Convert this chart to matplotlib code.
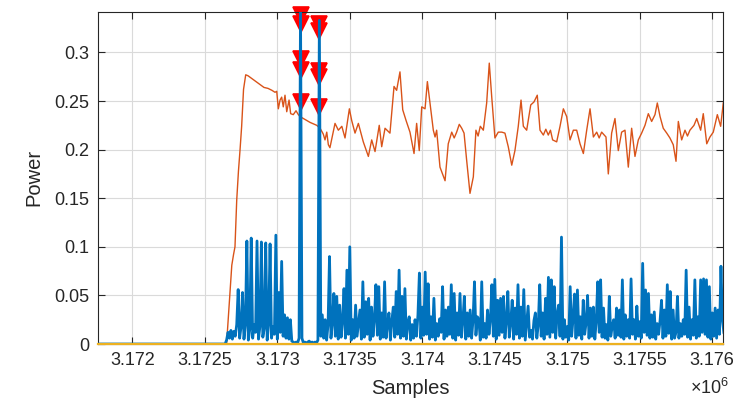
import numpy as np
import matplotlib
matplotlib.use("Agg")
import matplotlib.pyplot as plt
from matplotlib.ticker import MultipleLocator, FuncFormatter

plt.rcParams['font.family'] = ['Liberation Sans', 'DejaVu Sans']

# blue trace: instantaneous power, one value every 10 samples from 3172650
blue_start = 3172650
blue_step = 10
blue_power = [
    0.004, 0.012, 0.006, 0.014, 0.005, 0.013, 0.008, 0.020, 0.056, 0.006,
    0.018, 0.053, 0.005, 0.020, 0.106, 0.004, 0.015, 0.109, 0.006, 0.020,
    0.012, 0.106, 0.005, 0.018, 0.105, 0.007, 0.016, 0.104, 0.004, 0.020,
    0.103, 0.006, 0.018, 0.010, 0.112, 0.005, 0.053, 0.012, 0.085, 0.008,
    0.030, 0.006, 0.027, 0.005, 0.025, 0.003, 0.002, 0.001, 0.002, 0.001,
    0.006, 0.345, 0.006, 0.001, 0.002, 0.001, 0.002, 0.003, 0.001, 0.002,
    0.001, 0.002, 0.001, 0.004, 0.333, 0.008, 0.030, 0.006, 0.025, 0.004,
    0.020, 0.090, 0.006, 0.022, 0.052, 0.008, 0.049, 0.005, 0.040, 0.007,
    0.024, 0.057, 0.006, 0.076, 0.010, 0.100, 0.004, 0.025, 0.006, 0.040,
    0.008, 0.022, 0.035, 0.005, 0.064, 0.007, 0.0435, 0.010, 0.047, 0.004,
    0.038, 0.008, 0.026, 0.061, 0.009, 0.059, 0.005, 0.032, 0.007, 0.064,
    0.006, 0.020, 0.032, 0.004, 0.024, 0.038, 0.007, 0.054, 0.010, 0.076,
    0.006, 0.049, 0.008, 0.057, 0.005, 0.022, 0.028, 0.004, 0.020, 0.006,
    0.025, 0.008, 0.030, 0.073, 0.006, 0.038, 0.009, 0.074, 0.010, 0.062,
    0.005, 0.028, 0.007, 0.047, 0.004, 0.021, 0.008, 0.026, 0.012, 0.059,
    0.005, 0.035, 0.008, 0.038, 0.010, 0.061, 0.006, 0.052, 0.004, 0.032,
    0.009, 0.052, 0.007, 0.024, 0.049, 0.005, 0.032, 0.008, 0.035, 0.006,
    0.025, 0.064, 0.009, 0.028, 0.025, 0.004, 0.064, 0.007, 0.021, 0.006,
    0.035, 0.010, 0.026, 0.061, 0.008, 0.0665, 0.005, 0.045, 0.009, 0.047,
    0.012, 0.049, 0.006, 0.024, 0.054, 0.007, 0.022, 0.045, 0.005, 0.037,
    0.010, 0.061, 0.006, 0.038, 0.008, 0.056, 0.004, 0.022, 0.039, 0.007,
    0.014, 0.005, 0.024, 0.032, 0.006, 0.020, 0.061, 0.008, 0.032, 0.005,
    0.047, 0.010, 0.0686, 0.007, 0.066, 0.012, 0.059, 0.006, 0.030, 0.040,
    0.008, 0.110, 0.005, 0.025, 0.007, 0.018, 0.004, 0.059, 0.008, 0.026,
    0.0514, 0.006, 0.0556, 0.009, 0.028, 0.005, 0.045, 0.010, 0.022, 0.050,
    0.006, 0.037, 0.008, 0.038, 0.005, 0.024, 0.064, 0.012, 0.066, 0.007,
    0.037, 0.006, 0.020, 0.004, 0.049, 0.008, 0.018, 0.025, 0.006, 0.037,
    0.009, 0.035, 0.007, 0.066, 0.005, 0.030, 0.008, 0.025, 0.006, 0.067,
    0.010, 0.025, 0.005, 0.039, 0.008, 0.023, 0.006, 0.083, 0.012, 0.0556,
    0.009, 0.052, 0.006, 0.030, 0.007, 0.033, 0.005, 0.021, 0.010, 0.024,
    0.045, 0.006, 0.035, 0.008, 0.061, 0.011, 0.054, 0.005, 0.035, 0.006,
    0.012, 0.049, 0.006, 0.021, 0.008, 0.025, 0.010, 0.076, 0.007, 0.038,
    0.005, 0.025, 0.009, 0.066, 0.006, 0.028, 0.008, 0.066, 0.012, 0.067,
    0.010, 0.066, 0.007, 0.059, 0.005, 0.032, 0.008, 0.037, 0.006, 0.035,
    0.010, 0.080, 0.025, 0.012,
]

# orange trace: smoothed power
orange_samples = [
    3171761, 3172650, 3172668, 3172686, 3172698, 3172708, 3172720, 3172732,
    3172743, 3172754, 3172767, 3172782, 3172798, 3172825, 3172853, 3172881,
    3172908, 3172936, 3172963, 3172984, 3172996, 3173007, 3173019, 3173030,
    3173041, 3173053, 3173065, 3173081, 3173092, 3173110, 3173129, 3173145,
    3173157, 3173191, 3173226, 3173272, 3173295, 3173317, 3173329, 3173341,
    3173352, 3173363, 3173381, 3173398, 3173421, 3173445, 3173467, 3173497,
    3173513, 3173536, 3173559, 3173593, 3173628, 3173651, 3173674, 3173703,
    3173720, 3173743, 3173777, 3173805, 3173823, 3173846, 3173865, 3173888,
    3173915, 3173943, 3173961, 3173979, 3173996, 3174019, 3174035, 3174053,
    3174076, 3174088, 3174099, 3174122, 3174157, 3174179, 3174203, 3174220,
    3174237, 3174255, 3174272, 3174288, 3174306, 3174329, 3174352, 3174370,
    3174385, 3174400, 3174421, 3174444, 3174462, 3174479, 3174501, 3174524,
    3174548, 3174570, 3174593, 3174617, 3174639, 3174662, 3174681, 3174697,
    3174720, 3174748, 3174770, 3174793, 3174812, 3174835, 3174852, 3174869,
    3174884, 3174899, 3174927, 3174950, 3174973, 3174996, 3175019, 3175042,
    3175065, 3175088, 3175111, 3175134, 3175157, 3175180, 3175203, 3175220,
    3175237, 3175267, 3175283, 3175306, 3175329, 3175352, 3175375, 3175398,
    3175421, 3175444, 3175467, 3175490, 3175513, 3175536, 3175559, 3175582,
    3175605, 3175621, 3175640, 3175662, 3175686, 3175708, 3175731, 3175750,
    3175766, 3175789, 3175812, 3175829, 3175846, 3175874, 3175893, 3175920,
    3175938, 3175962, 3175984, 3176007, 3176035, 3176058, 3176076,
]
orange_power = [
    0.0, 0.0, 0.040, 0.081, 0.092, 0.100, 0.148, 0.178,
    0.200, 0.224, 0.262, 0.277, 0.276, 0.273, 0.270, 0.267,
    0.264, 0.263, 0.261, 0.259, 0.260, 0.242, 0.251, 0.254,
    0.244, 0.256, 0.239, 0.251, 0.237, 0.236, 0.240, 0.236,
    0.234, 0.231, 0.228, 0.225, 0.222, 0.216, 0.210, 0.218,
    0.205, 0.202, 0.215, 0.227, 0.220, 0.224, 0.212, 0.242,
    0.230, 0.217, 0.227, 0.208, 0.193, 0.210, 0.198, 0.225,
    0.203, 0.222, 0.217, 0.265, 0.261, 0.280, 0.241, 0.230,
    0.218, 0.196, 0.227, 0.199, 0.244, 0.242, 0.270, 0.248,
    0.220, 0.213, 0.220, 0.182, 0.168, 0.206, 0.218, 0.212,
    0.218, 0.226, 0.222, 0.217, 0.189, 0.155, 0.172, 0.220,
    0.214, 0.224, 0.220, 0.248, 0.289, 0.254, 0.212, 0.218,
    0.218, 0.217, 0.203, 0.184, 0.199, 0.224, 0.251, 0.224,
    0.220, 0.246, 0.249, 0.256, 0.220, 0.215, 0.221, 0.215,
    0.220, 0.210, 0.208, 0.224, 0.242, 0.234, 0.210, 0.220,
    0.220, 0.206, 0.196, 0.220, 0.242, 0.213, 0.218, 0.212,
    0.218, 0.213, 0.175, 0.217, 0.232, 0.199, 0.218, 0.220,
    0.182, 0.222, 0.193, 0.210, 0.217, 0.225, 0.237, 0.229,
    0.236, 0.248, 0.234, 0.222, 0.217, 0.212, 0.205, 0.188,
    0.229, 0.210, 0.220, 0.214, 0.220, 0.225, 0.232, 0.220,
    0.237, 0.206, 0.213, 0.218, 0.236, 0.224, 0.248,
]

# yellow trace: flat at zero over the whole window
yellow_samples = [3171761, 3176076]
yellow_power = [0.0, 0.0]

# detected peaks (red markers)
peak_samples = [3173160, 3173160, 3173160, 3173160, 3173160,
                3173290, 3173290, 3173290, 3173290, 3173290]
peak_power = [0.339, 0.329, 0.293, 0.282, 0.249,
              0.329, 0.322, 0.281, 0.275, 0.244]

blue_samples = blue_start + blue_step * np.arange(len(blue_power))
blue_x = np.r_[yellow_samples[0], blue_start - blue_step, blue_samples]
blue_y = np.r_[0.0, 0.0, blue_power]

text_col = '#262626'

fig = plt.figure(figsize=(7.52, 4.04), dpi=100)
ax = fig.add_axes([0.1299, 0.1485, 0.8319, 0.8225])

ax.plot(blue_x, blue_y, color='#0072BD', lw=2.0, zorder=4)
ax.plot(orange_samples, orange_power, color='#D95319', lw=1.0, zorder=3)
ax.plot(yellow_samples, yellow_power, color='#EDB120', lw=1.6, zorder=5,
        clip_on=False)
ax.plot(peak_samples, peak_power, 'v', color='red', ms=11, mec='red',
        mew=1.2, clip_on=False, zorder=2)

ax.set_xlim(3171761, 3176076)
ax.set_ylim(0, 0.3419)
ax.xaxis.set_major_locator(MultipleLocator(500))
ax.yaxis.set_major_locator(MultipleLocator(0.05))
ax.xaxis.set_major_formatter(FuncFormatter(lambda v, p: f'{v / 1e6:g}'))
ax.yaxis.set_major_formatter(FuncFormatter(lambda v, p: f'{v:g}'))

ax.grid(True, color='#dadada', lw=0.8)
ax.set_axisbelow(True)
ax.tick_params(direction='in', top=True, right=True, length=5, width=0.8,
               color=text_col, labelcolor=text_col, labelsize=13)
ax.tick_params(axis='y', pad=6)
ax.tick_params(axis='x', pad=6)
for s in ax.spines.values():
    s.set_color(text_col)
    s.set_linewidth(0.8)

ax.set_xlabel('Samples', fontsize=14.5, color=text_col)
ax.set_ylabel('Power', fontsize=14.5, color=text_col)
ax.xaxis.set_label_coords(0.5, -0.105)
ax.yaxis.set_label_coords(-0.087, 0.5)
ax.text(1.01, -0.132, r'$\mathregular{\times10^{6}}$', transform=ax.transAxes,
        ha='right', va='center', fontsize=13, color=text_col)

fig.savefig('out.png', dpi=100)
